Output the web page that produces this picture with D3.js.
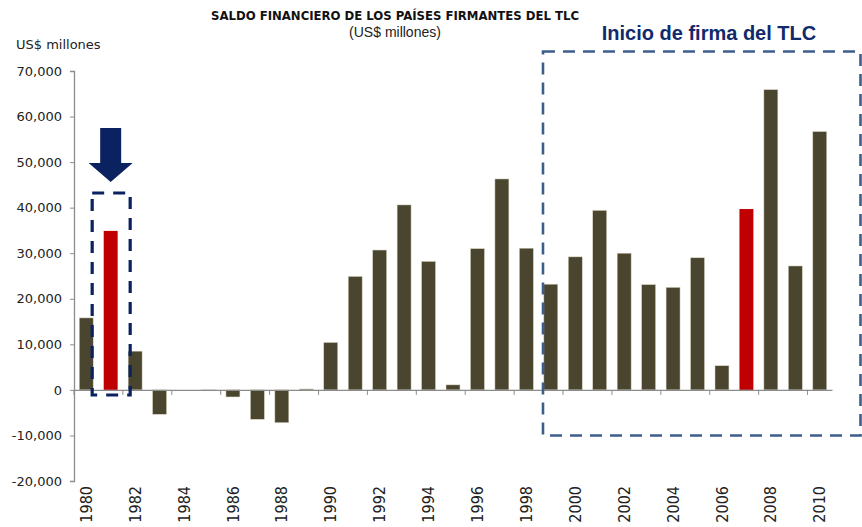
<!DOCTYPE html>
<html lang="es">
  <head>
    <meta charset="utf-8">
    <title>Saldo financiero de los países firmantes del TLC</title>
    <script src="https://d3js.org/d3.v7.min.js"></script>
    <style>
      body { margin: 0; background: #fff; }
      svg { display: block; }
    </style>
  </head>
  <body>
    <script type="text/javascript">
    // data
    var years = [1980, 1981, 1982, 1983, 1984, 1985, 1986, 1987, 1988, 1989,
                 1990, 1991, 1992, 1993, 1994, 1995, 1996, 1997, 1998, 1999,
                 2000, 2001, 2002, 2003, 2004, 2005, 2006, 2007, 2008, 2009, 2010];
    var saldo = [15800, 34900, 8500, -5350, 0, -200, -1550, -6450, -7200, 200,
                 10400, 24900, 30700, 40600, 28200, 1100, 31000, 46300, 31100, 23200,
                 29200, 39400, 30000, 23100, 22500, 29000, 5300, 39700, 65900, 27200, 56700];
    var highlightYears = [1981, 2007];
    var yTicks = [-20000, -10000, 0, 10000, 20000, 30000, 40000, 50000, 60000, 70000];
    var xLabelYears = years.filter(function(d) { return d % 2 === 0; });

    var w = 862;
    var h = 527;

    var svg = d3.select("body")
                .append("svg")
                .attr("width", w)
                .attr("height", h);

    var xScale = d3.scaleBand()
                   .domain(years)
                   .range([74, 832])
                   .paddingInner(0.43)
                   .paddingOuter(0.215);

    var yScale = d3.scaleLinear()
                   .domain([-20000, 70000])
                   .range([481, 71]);

    var fmt = d3.formatLocale({ decimal: ".", thousands: ",", grouping: [3], currency: ["$", ""], minus: "-" }).format(",");

    // y axis
    var yAxis = d3.axisLeft(yScale)
                  .tickValues(yTicks)
                  .tickFormat(fmt)
                  .tickSize(4)
                  .tickPadding(8);

    var gy = svg.append("g")
                .attr("class", "y axis")
                .attr("transform", "translate(74,0)")
                .call(yAxis);
    gy.select(".domain").attr("stroke", "#8c8c8c").attr("stroke-width", 1.3);
    gy.selectAll(".tick line").attr("stroke", "#8c8c8c");
    gy.selectAll("text")
      .attr("font-family", "'DejaVu Sans', Verdana, sans-serif")
      .attr("font-size", "13px")
      .attr("fill", "#222");

    // bars
    svg.selectAll("rect.bar")
       .data(years)
       .enter()
       .append("rect")
       .attr("class", "bar")
       .attr("x", function(d) { return xScale(d); })
       .attr("width", xScale.bandwidth())
       .attr("y", function(d, i) { return yScale(Math.max(0, saldo[i])); })
       .attr("height", function(d, i) { return Math.abs(yScale(saldo[i]) - yScale(0)); })
       .attr("fill", function(d) { return highlightYears.indexOf(d) >= 0 ? "#c00000" : "#4a452e"; })
       .attr("stroke", function(d) { return highlightYears.indexOf(d) >= 0 ? "none" : "#d6d2c0"; })
       .attr("stroke-width", 0.5);

    // x axis at zero
    var step = xScale.step();
    var xAxis = d3.axisBottom(xScale)
                  .tickValues(xLabelYears)
                  .tickSize(5)
                  .tickSizeOuter(0);

    var gx = svg.append("g")
                .attr("class", "x axis")
                .attr("transform", "translate(0," + yScale(0) + ")")
                .call(xAxis);
    gx.select(".domain").attr("stroke", "#8c8c8c").attr("stroke-width", 1.3);
    gx.selectAll(".tick line")
      .attr("stroke", "#8c8c8c")
      .attr("x1", -step / 2)
      .attr("x2", -step / 2);
    gx.selectAll(".tick text")
      .attr("y", 0)
      .attr("dy", "0.35em")
      .attr("transform", "translate(0," + (486 - yScale(0)) + ") rotate(-90)")
      .attr("text-anchor", "end")
      .attr("font-family", "'Liberation Sans Narrow', 'DejaVu Sans Condensed', sans-serif")
      .attr("font-size", "16px")
      .attr("fill", "#222");

    // titles
    svg.append("text")
       .attr("x", 395)
       .attr("y", 19.5)
       .attr("text-anchor", "middle")
       .attr("font-family", "'Liberation Sans Narrow', 'DejaVu Sans Condensed', sans-serif")
       .attr("font-weight", "bold")
       .attr("font-size", "13px")
       .attr("fill", "#111")
       .text("SALDO FINANCIERO DE LOS PAÍSES FIRMANTES DEL TLC");

    svg.append("text")
       .attr("x", 395)
       .attr("y", 37)
       .attr("text-anchor", "middle")
       .attr("font-family", "'Liberation Sans', Arial, sans-serif")
       .attr("font-size", "14px")
       .attr("fill", "#222")
       .text("(US$ millones)");

    svg.append("text")
       .attr("x", 16)
       .attr("y", 49)
       .attr("font-family", "'DejaVu Sans', Verdana, sans-serif")
       .attr("font-size", "13px")
       .attr("fill", "#222")
       .text("US$ millones");

    svg.append("text")
       .attr("x", 709)
       .attr("y", 40)
       .attr("text-anchor", "middle")
       .attr("font-family", "'Liberation Sans', Arial, sans-serif")
       .attr("font-weight", "bold")
       .attr("font-size", "20px")
       .attr("fill", "#102a6b")
       .text("Inicio de firma del TLC");

    // dashed box around 1981
    var x81 = xScale(1981) + xScale.bandwidth() / 2;
    svg.append("rect")
       .attr("x", x81 - 18.5)
       .attr("y", 193)
       .attr("width", 38)
       .attr("height", 202)
       .attr("fill", "none")
       .attr("stroke", "#0b2260")
       .attr("stroke-width", 3.2)
       .attr("stroke-dasharray", "12,9");

    // arrow pointing down at 1981
    var arrow = d3.path();
    arrow.moveTo(x81 - 10.5, 128);
    arrow.lineTo(x81 + 10.5, 128);
    arrow.lineTo(x81 + 10.5, 163);
    arrow.lineTo(x81 + 22, 163);
    arrow.lineTo(x81, 182);
    arrow.lineTo(x81 - 22, 163);
    arrow.lineTo(x81 - 10.5, 163);
    arrow.closePath();
    svg.append("path")
       .attr("d", arrow.toString())
       .attr("fill", "#0b2260");

    // dashed box for TLC period
    svg.append("rect")
       .attr("x", 543)
       .attr("y", 51.5)
       .attr("width", 317.5)
       .attr("height", 384)
       .attr("fill", "none")
       .attr("stroke", "#3c5e8c")
       .attr("stroke-width", 2.6)
       .attr("stroke-dasharray", "12,8");
    </script>
  </body>
</html>
